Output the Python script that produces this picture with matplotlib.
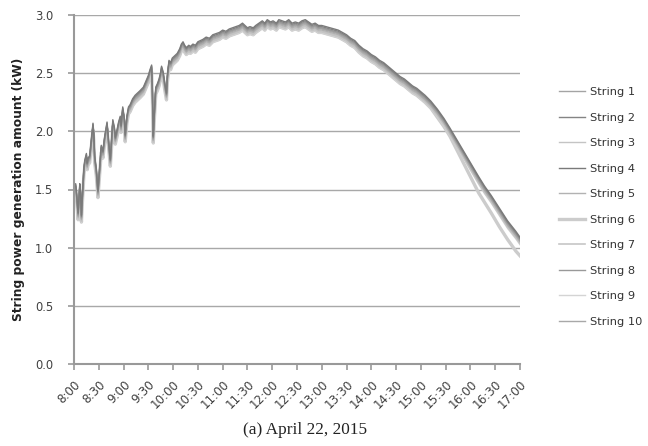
import matplotlib
matplotlib.use("Agg")
import matplotlib.pyplot as plt

# minutes after 8:00 and base string output (kW)
times = [0, 2, 3, 5, 6, 7, 8, 9, 10, 12, 13, 15, 16, 17, 19, 21, 23, 24, 25, 27,
         29, 31, 33, 35, 37, 40, 42, 44, 46, 47, 49, 50, 52, 54, 56, 57, 59, 61, 62, 64,
         66, 68, 71, 74, 77, 80, 84, 87, 90, 92, 94, 95, 96, 97, 99, 101, 103, 105, 106, 108,
         110, 112, 113, 115, 117, 119, 122, 125, 128, 130, 132, 134, 136, 139, 141, 144, 147, 150, 153, 156,
         160, 164, 168, 172, 176, 180, 184, 188, 192, 196, 200, 204, 207, 210, 213, 217, 220, 224, 228, 231,
         234, 238, 241, 245, 248, 252, 256, 260, 264, 268, 272, 276, 280, 284, 288, 292, 296, 300, 305, 310,
         315, 320, 325, 330, 335, 340, 345, 350, 355, 360, 365, 370, 375, 380, 385, 390, 395, 400, 405, 410,
         415, 420, 425, 432, 440, 448, 455, 460, 465, 470, 475, 480, 485, 490, 497, 505, 515, 525, 535, 540]
base = [1.48, 1.52, 1.45, 1.27, 1.40, 1.52, 1.45, 1.25, 1.40, 1.66, 1.72, 1.78, 1.70, 1.74, 1.76, 1.90, 2.04, 1.95, 1.76, 1.65,
        1.46, 1.65, 1.85, 1.80, 1.92, 2.05, 1.88, 1.73, 1.95, 2.07, 2.00, 1.92, 1.98, 2.05, 2.10, 2.02, 2.18, 2.08, 1.94, 2.10,
        2.18, 2.20, 2.25, 2.28, 2.30, 2.32, 2.35, 2.40, 2.45, 2.50, 2.54, 2.30, 1.93, 2.10, 2.35, 2.38, 2.42, 2.48, 2.53, 2.48,
        2.38, 2.30, 2.45, 2.58, 2.56, 2.60, 2.62, 2.64, 2.68, 2.72, 2.74, 2.71, 2.69, 2.71, 2.70, 2.72, 2.71, 2.74, 2.75, 2.76,
        2.78, 2.77, 2.80, 2.81, 2.82, 2.84, 2.83, 2.85, 2.86, 2.87, 2.88, 2.90, 2.88, 2.86, 2.87, 2.86, 2.88, 2.90, 2.92, 2.90,
        2.93, 2.91, 2.92, 2.90, 2.93, 2.92, 2.91, 2.93, 2.90, 2.91, 2.90, 2.92, 2.93, 2.91, 2.89, 2.90, 2.88, 2.88, 2.87, 2.86,
        2.85, 2.84, 2.82, 2.80, 2.77, 2.75, 2.71, 2.68, 2.66, 2.63, 2.61, 2.58, 2.56, 2.53, 2.50, 2.47, 2.44, 2.42, 2.39, 2.36,
        2.34, 2.31, 2.28, 2.23, 2.16, 2.08, 2.00, 1.94, 1.88, 1.82, 1.76, 1.70, 1.64, 1.58, 1.50, 1.42, 1.31, 1.20, 1.11, 1.06]

# small per-string level differences (kW)
string_offsets = [0.00, 0.02, -0.02, 0.03, -0.01, -0.03, -0.025, 0.01, -0.035, 0.005]
# string 6 falls below the others late in the afternoon
s6_tail_times = [440, 448, 455, 460, 465, 470, 475, 480, 485, 490, 497, 505, 515, 525, 535, 540]
s6_tail = [2.12, 2.04, 1.96, 1.89, 1.82, 1.75, 1.68, 1.61, 1.54, 1.47, 1.39, 1.30, 1.18, 1.07, 0.97, 0.93]

names = ["String %d" % i for i in range(1, 11)]
colors = ["#a4a4a4", "#848484", "#c4c4c4", "#7a7a7a", "#b2b2b2",
          "#cccccc", "#c6c6c6", "#999999", "#d4d4d4", "#a8a8a8"]
widths = [1.0, 1.0, 1.0, 1.0, 1.0, 2.4, 1.2, 1.0, 1.0, 1.0]

tick_minutes = list(range(0, 541, 30))
tick_labels = ["8:00", "8:30", "9:00", "9:30", "10:00", "10:30", "11:00", "11:30", "12:00", "12:30",
               "13:00", "13:30", "14:00", "14:30", "15:00", "15:30", "16:00", "16:30", "17:00"]

fig = plt.figure(figsize=(6.48, 4.46), dpi=100)
ax = fig.add_axes([74/648, 1-364/446, (520-74)/648, (364-15)/446])

order = [5, 8, 6, 2, 4, 0, 9, 7, 1, 3]
lines = {}
for i in order:
    t = list(times)
    v = [b + string_offsets[i] for b in base]
    if i == 5:
        cut = times.index(440)
        t = times[:cut] + s6_tail_times
        v = v[:cut] + s6_tail
    ln, = ax.plot(t, v, color=colors[i], lw=widths[i], label=names[i])
    lines[i] = ln

ax.set_xlim(0, 540)
ax.set_ylim(0, 3.0)
ax.set_yticks([0, 0.5, 1.0, 1.5, 2.0, 2.5, 3.0])
ax.set_yticklabels(["0.0", "0.5", "1.0", "1.5", "2.0", "2.5", "3.0"])
ax.set_xticks(tick_minutes)
ax.set_xticklabels(tick_labels, rotation=45, ha="right", va="top", rotation_mode="anchor")
ax.grid(axis="y", color="#a8a8a8", lw=1.0)
ax.set_axisbelow(True)
for s in ["top", "right"]:
    ax.spines[s].set_visible(False)
for s in ["left", "bottom"]:
    ax.spines[s].set_color("#999999")
    ax.spines[s].set_linewidth(1.5)
ax.tick_params(axis="both", colors="#999999", labelcolor="#404040", length=4, width=1.2)
ax.tick_params(axis="y", labelsize=8.3, pad=11)
ax.tick_params(axis="x", labelsize=8.6, pad=6)
ax.set_ylabel("String power generation amount (kW)", fontsize=8.8, fontweight="bold", color="#222222")
ax.yaxis.set_label_coords((25-74)/446, 0.5)

leg = fig.legend([lines[i] for i in range(10)], names, loc="upper left",
                 bbox_to_anchor=(549/648, 1-77/446), frameon=False, fontsize=8.2,
                 handlelength=2.3, labelspacing=1.36, handletextpad=0.4, labelcolor="#333333")

fig.text(305/648, 1-430/446, "(a) April 22, 2015", family="Liberation Serif", fontsize=12.4,
         ha="center", va="center", color="#222222")

fig.savefig("out.png", dpi=100)
